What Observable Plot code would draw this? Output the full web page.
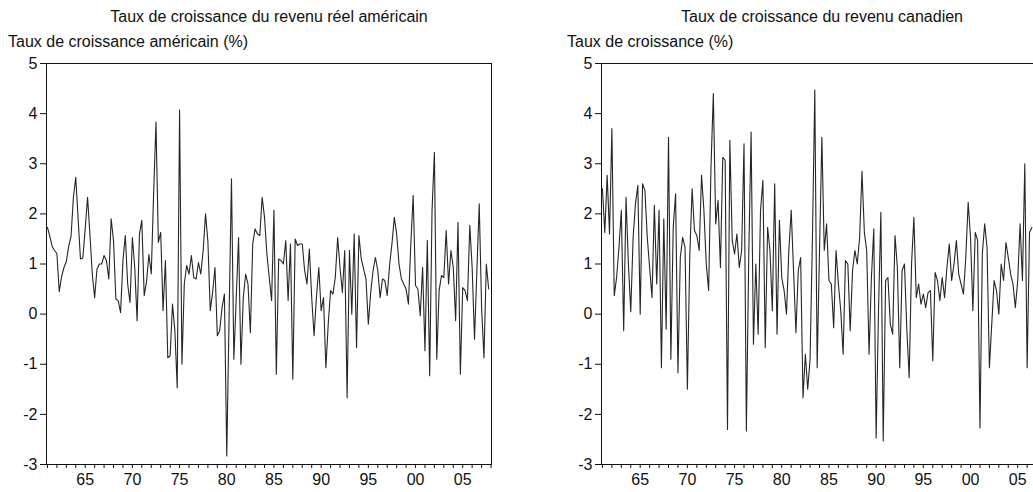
<!DOCTYPE html>
<html>
<head>
<meta charset="utf-8">
<script src="https://cdn.jsdelivr.net/npm/d3@7"></script>
<script src="https://cdn.jsdelivr.net/npm/@observablehq/plot@0.6"></script>
<style>
  html, body { margin: 0; padding: 0; background: #fff; overflow: hidden; width: 1033px; height: 492px; }
  #wrap { position: relative; width: 1033px; height: 492px; overflow: hidden; }
  .panel { position: absolute; top: 0; }
  .txt { position: absolute; font-family: "Liberation Sans Narrow", "Arial Narrow", "Liberation Sans", Arial, sans-serif;
         font-size: 16px; color: #111; white-space: nowrap; line-height: 1; }
</style>
</head>
<body>
<div id="wrap"></div>
<script>
// Quarterly growth rates (%), first observation 1961Q1
const startYear = 1961;

const usGrowth = [
  1.73, 1.55, 1.35, 1.27, 1.21, 0.45, 0.75, 0.93, 1.05, 1.35,
  1.55, 2.33, 2.73, 1.9, 1.1, 1.12, 1.7, 2.33, 1.6, 0.8,
  0.33, 0.9, 1.0, 1.0, 1.17, 1.07, 0.7, 1.9, 1.47, 0.3,
  0.27, 0.03, 1.07, 1.57, 0.6, 0.23, 1.53, 0.93, -0.13, 1.6,
  1.87, 0.37, 0.65, 1.19, 0.8, 2.4, 3.83, 1.43, 1.63, 0.07,
  1.07, -0.87, -0.83, 0.2, -0.33, -1.47, 4.07, -1.0, 0.6, 0.97,
  0.8, 1.17, 0.73, 0.7, 1.03, 0.8, 1.27, 2.0, 1.45, 0.07,
  0.43, 0.93, -0.43, -0.33, 0.13, 0.4, -2.83, 0.0, 2.7, -0.9,
  0.3, 1.53, -1.0, 0.33, 0.8, 0.6, -0.37, 1.4, 1.7, 1.6,
  1.57, 2.33, 1.93, 1.2, 0.73, 0.27, 2.07, -1.2, 1.1, 1.07,
  1.0, 1.47, 0.27, 1.4, -1.3, 1.5, 1.37, 1.4, 1.4, 0.87,
  0.6, 1.3, 0.33, -0.43, 0.33, 0.93, 0.07, 0.33, -1.07, -0.2,
  0.47, 0.4, 0.73, 1.53, 0.93, 0.43, 1.27, -1.67, 1.27, 0.0,
  1.6, -0.67, 1.57, 1.1, 0.9, 0.7, -0.2, 0.43, 0.87, 1.13,
  0.87, 0.33, 0.7, 0.67, 0.37, 0.97, 1.4, 1.93, 1.6, 1.0,
  0.7, 0.6, 0.5, 0.2, 1.4, 2.37, 0.57, 0.5, -0.03, 0.93,
  -0.73, 1.47, -1.23, 2.07, 3.23, -0.9, 0.47, 0.77, 0.73, 1.67,
  0.6, 1.27, 0.93, -0.13, 1.83, -1.2, 0.53, 0.47, 0.27, 1.77,
  0.93, -0.5, 0.87, 2.2, 0.13, -0.87, 1.0, 0.5
];

const caGrowth = [
  2.5, 1.63, 2.77, 1.6, 3.7, 0.37, 0.73, 1.33, 2.07, -0.33,
  2.33, 1.0, 0.05, 1.53, 2.2, 2.57, 0.0, 2.6, 2.47, 1.53,
  0.93, 0.33, 2.17, 0.6, 2.07, -1.07, 1.9, -0.3, 3.53, -0.9,
  1.73, 2.4, -1.17, 1.13, 1.53, 1.33, -1.5, 1.13, 2.5, 1.67,
  1.57, 1.27, 2.77, 2.07, 1.0, 0.47, 2.93, 4.4, 1.8, 2.27,
  0.93, 3.13, 3.07, -2.3, 3.47, 1.47, 1.2, 1.6, 0.93, 1.27,
  3.4, -2.33, 1.13, 3.63, -0.6, 1.0, -0.4, 2.07, 2.67, -0.67,
  1.73, 1.27, 0.07, 2.6, -0.4, 1.87, 0.73, 0.47, 0.0, 1.27,
  2.07, 0.87, -0.37, 0.87, 1.13, -1.67, -0.8, -1.5, -0.9, 1.53,
  4.47, -1.07, 1.27, 3.53, 1.27, 1.8, 0.67, 0.6, -0.27, 1.27,
  0.6, 0.07, -0.8, 1.07, 1.0, -0.33, 0.87, 1.27, 1.0, 1.53,
  2.85, 1.63, 1.27, -0.8, 0.73, 1.7, -2.47, 0.07, 2.03, -2.53,
  0.67, 0.73, -0.2, -0.4, 1.57, 0.93, -1.07, 0.87, 1.0, -0.3,
  -1.27, 1.0, 1.93, 0.33, 0.6, 0.2, 0.4, 0.13, 0.43, 0.47,
  -0.93, 0.83, 0.67, 0.27, 0.73, 0.33, 0.93, 1.4, 0.67, 1.0,
  1.47, 0.8, 0.6, 0.4, 1.13, 2.23, 1.53, 0.07, 1.63, 1.47,
  -2.27, 1.2, 1.8, 1.33, -1.07, -0.2, 0.67, 0.47, 0.0, 1.0,
  0.67, 1.43, 1.13, 0.8, 0.6, 0.13, 0.67, 1.8, 0.67, 3.0,
  -1.07, 1.63, 1.73
];

const yTicks = [-3, -2, -1, 0, 1, 2, 3, 4, 5];
const yearTicks = d3.range(1961, 2009);
const labelYears = [1965, 1970, 1975, 1980, 1985, 1990, 1995, 2000, 2005];

const titles = {
  us: { title: "Taux de croissance du revenu réel américain", ylabel: "Taux de croissance américain (%)" },
  ca: { title: "Taux de croissance du revenu canadien", ylabel: "Taux de croissance (%)" }
};

const FONT = '"Liberation Sans Narrow", "Arial Narrow", "Liberation Sans", Arial, sans-serif';
const wrap = document.getElementById("wrap");

function toRows(values) {
  return values.map((v, i) => ({ date: startYear + i / 4, value: v }));
}

function panel(values, offsetX) {
  const chart = Plot.plot({
    width: 520,
    height: 492,
    marginLeft: 46,
    marginRight: 29,
    marginTop: 63,
    marginBottom: 28,
    style: { fontFamily: FONT, fontSize: "16px", color: "#111", background: "transparent", overflow: "visible" },
    x: { domain: [1960.9, 2008.05] },
    y: { domain: [-3, 5] },
    marks: [
      Plot.lineY(toRows(values), { x: "date", y: "value", stroke: "#262626", strokeWidth: 1.1 }),
      Plot.frame({ stroke: "#111", strokeWidth: 1 }),
      Plot.axisY({ ticks: yTicks, tickSize: 6, tickPadding: 3, tickFormat: d => String(d), label: null, stroke: "#111" }),
      Plot.axisX({ ticks: yearTicks, tickSize: 4, tickPadding: 5,
                   tickFormat: d => labelYears.includes(d) ? String(d).slice(2) : "", label: null, stroke: "#111" })
    ]
  });
  chart.classList.add("panel");
  chart.style.left = offsetX + "px";
  wrap.appendChild(chart);
}

function label(text, x, y, center) {
  const el = document.createElement("div");
  el.className = "txt";
  el.textContent = text;
  el.style.left = x + "px";
  el.style.top = y + "px";
  if (center) el.style.transform = "translateX(-50%)";
  wrap.appendChild(el);
}

panel(usGrowth, 0);
panel(caGrowth, 555);

label(titles.us.title, 269, 9, true);
label(titles.us.ylabel, 8, 34, false);
label(titles.ca.title, 822, 9, true);
label(titles.ca.ylabel, 567, 34, false);
</script>
</body>
</html>
